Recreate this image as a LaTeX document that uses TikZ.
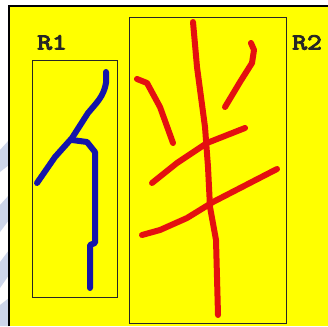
\documentclass[tikz,border=0pt]{standalone}
\usepackage{fontspec}
\definecolor{bg}{RGB}{255,255,0}
\definecolor{inkblue}{RGB}{20,20,170}
\definecolor{inkred}{RGB}{228,16,16}
\definecolor{wm}{RGB}{205,214,234}
\newcommand{\heavytxt}[1]{\special{pdf:literal direct 2 Tr 0.9 w}#1\special{pdf:literal direct 0 Tr}}
\tikzset{
  box/.style={draw=black!85, line width=1.3pt},
  bluestroke/.style={draw=inkblue, line width=6pt, line cap=round, line join=round},
  redstroke/.style={draw=inkred, line width=6pt, line cap=round, line join=round},
  lab/.style={font=\ttfamily\fontsize{23}{23}\selectfont, text=black!85, inner sep=0pt, anchor=north west, xscale=1.25}
}
\begin{document}
\begin{tikzpicture}[x=1pt,y=-1pt]
\useasboundingbox (0,0) rectangle (328,326);
% white margin with faint watermark
\fill[white] (0,0) rectangle (328,326);
\fill[wm] (0,150) -- (9,140) -- (9,165) -- (0,172) -- cycle;
\fill[wm] (0,205) -- (9,195) -- (9,220) -- (0,232) -- cycle;
\fill[wm] (0,262) -- (9,250) -- (9,275) -- (0,288) -- cycle;
\fill[wm] (0,305) -- (9,298) -- (9,326) -- (0,326) -- cycle;
% yellow field
\fill[bg] (9,6) rectangle (328,326);
\draw[black, line width=1.8pt] (9,326) -- (9,6) -- (328,6);
% boxes
\node[box, minimum width=85pt, minimum height=237pt, inner sep=0pt, anchor=north west] (r1) at (32,60) {};
\node[box, minimum width=157pt, minimum height=306pt, inner sep=0pt, anchor=north west] (r2) at (129,17) {};
\node[lab] (l1) at (37,35) {\heavytxt{R1}};
\node[lab] (l2) at (292,35) {\heavytxt{R2}};
% blue strokes
\draw[bluestroke] (106,72) -- (106,83) to[out=-100,in=50] (88,113) -- (72,138) -- (55,157) -- (37,183);
\draw[bluestroke] (72,140) -- (87,142) -- (95,152) -- (95,243) -- (90,245) -- (90,288);
% red strokes
\draw[redstroke] (193,22) -- (197,67) -- (205,127) -- (208,167) -- (210,207) -- (216,240) -- (218,315);
\draw[redstroke] (251,43) -- (254,50) -- (252,63) -- (240,82) -- (225,107);
\draw[redstroke] (137,79) -- (147,83) -- (160,107) -- (173,143);
\draw[redstroke] (152,183) -- (177,163) -- (207,143) -- (245,128);
\draw[redstroke] (142,235) -- (160,230) -- (187,218) -- (213,202) -- (277,169);
\end{tikzpicture}
\end{document}
